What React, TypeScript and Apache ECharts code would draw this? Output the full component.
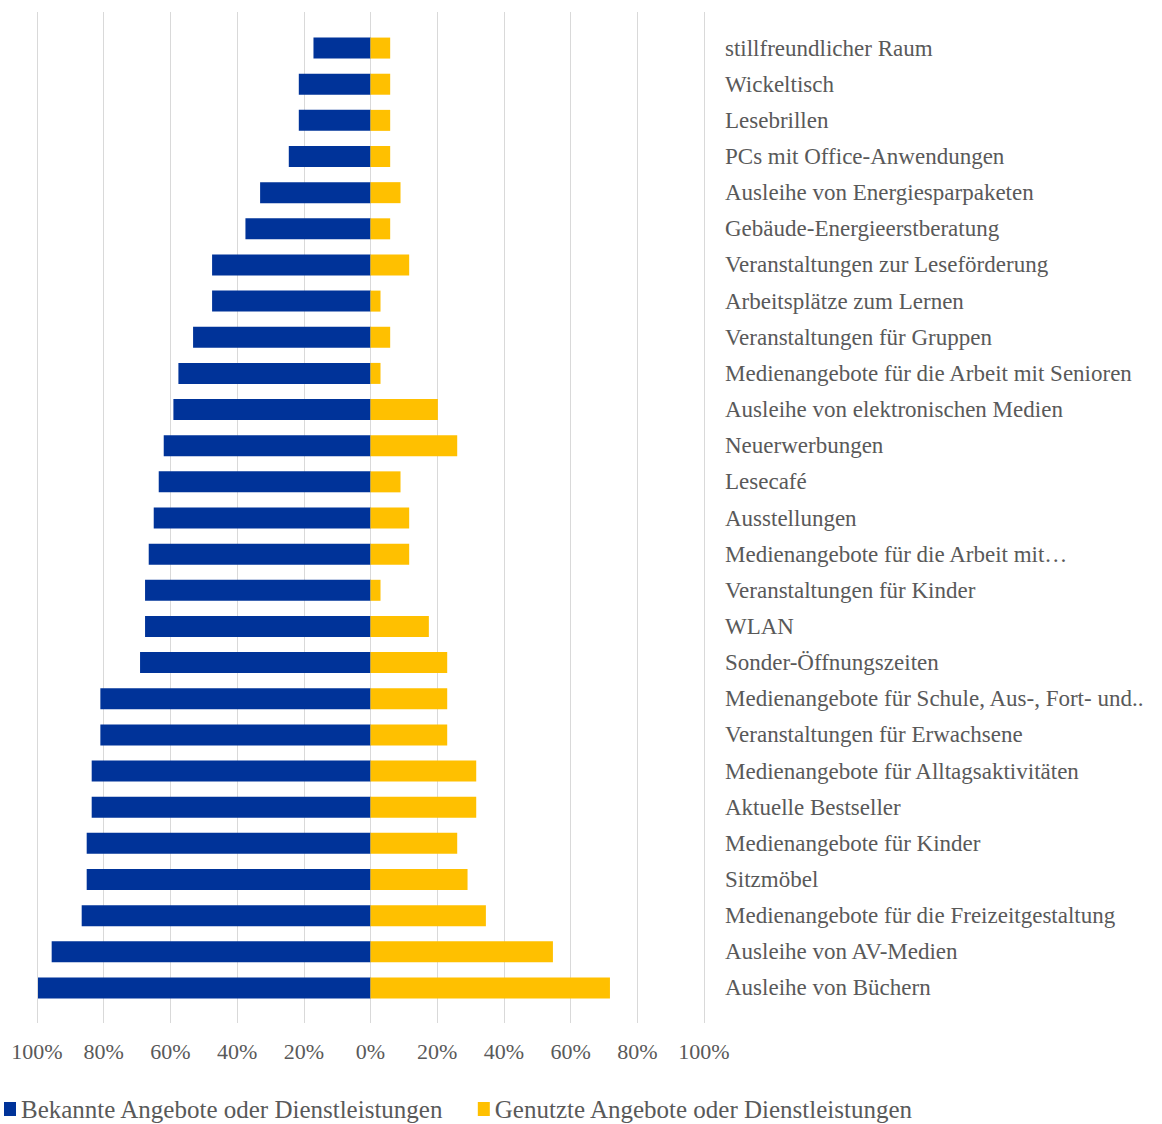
import React, { useEffect, useRef } from "react";
import * as echarts from "echarts";

const categories = [
  "stillfreundlicher Raum",
  "Wickeltisch",
  "Lesebrillen",
  "PCs mit Office-Anwendungen",
  "Ausleihe von Energiesparpaketen",
  "Gebäude-Energieerstberatung",
  "Veranstaltungen zur Leseförderung",
  "Arbeitsplätze zum Lernen",
  "Veranstaltungen für Gruppen",
  "Medienangebote für die Arbeit mit Senioren",
  "Ausleihe von elektronischen Medien",
  "Neuerwerbungen",
  "Lesecafé",
  "Ausstellungen",
  "Medienangebote für die Arbeit mit…",
  "Veranstaltungen für Kinder",
  "WLAN",
  "Sonder-Öffnungszeiten",
  "Medienangebote für Schule, Aus-, Fort- und..",
  "Veranstaltungen für Erwachsene",
  "Medienangebote für Alltagsaktivitäten",
  "Aktuelle Bestseller",
  "Medienangebote für Kinder",
  "Sitzmöbel",
  "Medienangebote für die Freizeitgestaltung",
  "Ausleihe von AV-Medien",
  "Ausleihe von Büchern",
];

const bekannt = [
  17.1, 21.5, 21.5, 24.5, 33.1, 37.5, 47.5, 47.5, 53.2, 57.6, 59.1, 62.0, 63.5,
  65.0, 66.5, 67.6, 67.6, 69.1, 81.0, 81.0, 83.6, 83.6, 85.1, 85.1, 86.6, 95.6,
  99.7,
];

const genutzt = [
  5.9, 5.9, 5.9, 5.9, 9.0, 5.9, 11.6, 3.0, 5.9, 3.0, 20.2, 26.0, 9.0, 11.6,
  11.6, 3.0, 17.5, 23.0, 23.0, 23.0, 31.7, 31.7, 26.0, 29.1, 34.6, 54.7, 71.8,
];

const seriesNames = [
  "Bekannte Angebote oder Dienstleistungen",
  "Genutzte Angebote oder Dienstleistungen",
];

const FONT = "'Liberation Serif', 'Times New Roman', serif";

export default function App() {
  const ref = useRef<HTMLDivElement>(null);

  useEffect(() => {
    document.body.style.margin = "0";
    if (!ref.current) return;
    const chart = echarts.init(ref.current, undefined, { renderer: "svg" });
    chart.setOption({
      animation: false,
      backgroundColor: "#ffffff",
      textStyle: { fontFamily: FONT },
      grid: [
        { left: 37, right: 458, top: 30, bottom: 118 },
        { left: 37, right: 458, top: 12, bottom: 101 },
      ],
      xAxis: [
        {
          gridIndex: 0,
          type: "value",
          min: -100,
          max: 100,
          interval: 20,
          axisLine: { show: false },
          axisTick: { show: false },
          splitLine: { show: false },
          axisLabel: { show: false },
        },
        {
          gridIndex: 1,
          type: "value",
          min: -100,
          max: 100,
          interval: 20,
          axisLine: { show: false },
          axisTick: { show: false },
          splitLine: { show: true, lineStyle: { color: "#d9d9d9", width: 1 } },
          axisLabel: {
            show: true,
            margin: 17,
            fontFamily: FONT,
            fontSize: 22,
            color: "#595959",
            formatter: (v: number) => Math.abs(v) + "%",
          },
        },
      ],
      yAxis: [
        {
          gridIndex: 0,
          type: "category",
          data: categories,
          inverse: true,
          position: "right",
          axisLine: { show: false },
          axisTick: { show: false },
          splitLine: { show: false },
          axisLabel: {
            margin: 21,
            align: "left",
            fontFamily: FONT,
            fontSize: 23,
            color: "#595959",
          },
        },
        {
          gridIndex: 1,
          type: "value",
          min: 0,
          max: 1,
          show: false,
        },
      ],
      legend: {
        left: 4,
        top: 1095,
        padding: 0,
        icon: "rect",
        itemWidth: 12,
        itemHeight: 14,
        itemGap: 34,
        textStyle: {
          fontFamily: FONT,
          fontSize: 25,
          lineHeight: 28,
          color: "#595959",
        },
        data: seriesNames,
      },
      series: [
        {
          name: seriesNames[0],
          type: "bar",
          xAxisIndex: 0,
          yAxisIndex: 0,
          data: bekannt.map((v) => -v),
          barWidth: 21,
          barGap: "-100%",
          itemStyle: { color: "#003399" },
        },
        {
          name: seriesNames[1],
          type: "bar",
          xAxisIndex: 0,
          yAxisIndex: 0,
          data: genutzt,
          barWidth: 21,
          barGap: "-100%",
          itemStyle: { color: "#FFC000" },
        },
      ],
    });
    return () => chart.dispose();
  }, []);

  return <div ref={ref} style={{ width: 1162, height: 1124 }} />;
}
